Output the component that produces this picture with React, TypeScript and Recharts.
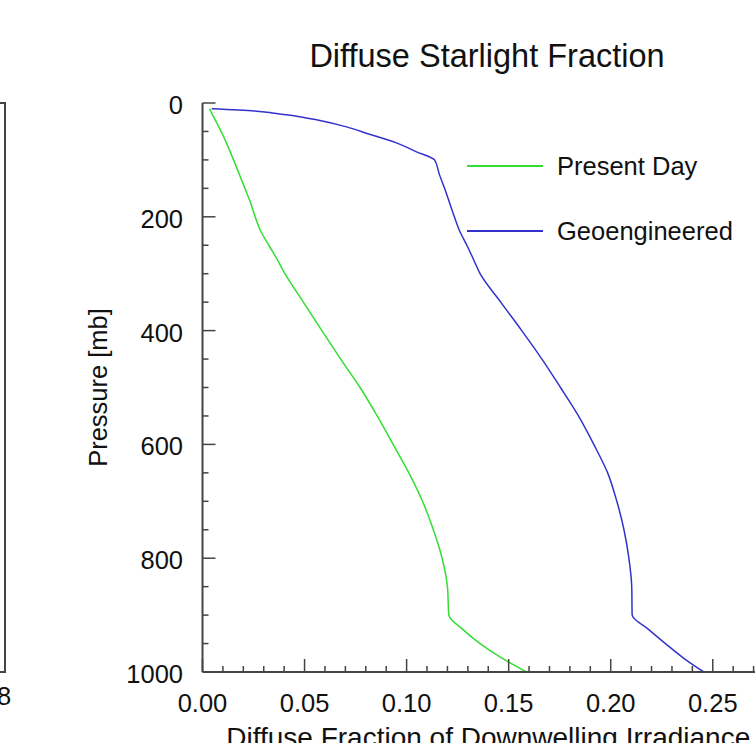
import { LineChart, Line, XAxis, YAxis, Legend } from 'recharts'

const pressure = [
	10, 14, 18, 24, 30, 42, 55, 70, 85, 100, 125, 150, 175, 200, 225, 250, 275,
	300, 350, 400, 450, 500, 550, 600, 650, 700, 750, 800, 850, 900, 925, 950,
	975, 1000
]
const presentDay = [
	0.0035, 0.004, 0.0045, 0.0054, 0.0063, 0.008, 0.0098, 0.0117, 0.0135, 0.0152,
	0.018, 0.0208, 0.0235, 0.0258, 0.0285, 0.0325, 0.0366, 0.0404, 0.0494,
	0.0585, 0.0677, 0.0772, 0.0856, 0.0934, 0.1011, 0.1078, 0.1131, 0.1174,
	0.12, 0.1207, 0.1275, 0.136, 0.1465, 0.1588
]
const geoengineered = [
	0.0045, 0.0255, 0.0353, 0.0475, 0.0564, 0.0706, 0.0818, 0.095, 0.1043,
	0.1137, 0.116, 0.1186, 0.121, 0.1234, 0.126, 0.1295, 0.1328, 0.136, 0.1461,
	0.1564, 0.1663, 0.1754, 0.1842, 0.1917, 0.1985, 0.203, 0.2065, 0.2089,
	0.2103, 0.2105, 0.2185, 0.2268, 0.2355, 0.2456
]

const seriesNames = ['Present Day', 'Geoengineered']
const xMajorTicks = [0, 0.05, 0.1, 0.15, 0.2, 0.25]
const yMajorTicks = [0, 200, 400, 600, 800, 1000]
const xTicks = Array.from({ length: 29 }, (_, i) => i / 100)
const yTicks = Array.from({ length: 21 }, (_, i) => i * 50)

const data = pressure.map((p, i) => ({
	p,
	present: presentDay[i],
	geo: geoengineered[i]
}))

const FONT = '"Liberation Sans", Arial, Helvetica, sans-serif'
const AXIS = '#444'
const TEXT = '#111'

const isMajor = (v: number, list: number[]) =>
	list.some((m) => Math.abs(m - v) < 1e-9)

const XTick = (props: any) => {
	const { x, y, payload } = props
	const major = isMajor(payload.value, xMajorTicks)
	return (
		<g>
			<line
				x1={x}
				x2={x}
				y1={y}
				y2={y - (major ? 13 : 6)}
				stroke={AXIS}
				strokeWidth={1.5}
			/>
			{major && (
				<text
					x={x}
					y={y + 40}
					textAnchor='middle'
					fontSize={25.5}
					fontFamily={FONT}
					fill={TEXT}
				>
					{payload.value.toFixed(2)}
				</text>
			)}
		</g>
	)
}

const YTick = (props: any) => {
	const { x, y, payload } = props
	const major = isMajor(payload.value, yMajorTicks)
	return (
		<g>
			<line
				x1={x}
				x2={x + (major ? 13 : 6)}
				y1={y}
				y2={y}
				stroke={AXIS}
				strokeWidth={1.5}
			/>
			{major && (
				<text
					x={x - 19.5}
					y={y + 11}
					textAnchor='end'
					fontSize={25.5}
					fontFamily={FONT}
					fill={TEXT}
				>
					{payload.value}
				</text>
			)}
		</g>
	)
}

const renderLegend = (props: any) => {
	const items = [...props.payload].sort(
		(a: any, b: any) => seriesNames.indexOf(a.value) - seriesNames.indexOf(b.value)
	)
	return (
		<div style={{ fontFamily: FONT }}>
			{items.map((entry: any) => (
				<div
					key={entry.value}
					style={{
						display: 'flex',
						alignItems: 'center',
						height: 30,
						marginBottom: 35
					}}
				>
					<span
						style={{
							display: 'inline-block',
							width: 76,
							height: 1.5,
							background: entry.color
						}}
					/>
					<span style={{ marginLeft: 14, fontSize: 25.5, color: TEXT }}>
						{entry.value}
					</span>
				</div>
			))}
		</div>
	)
}

function App() {
	return (
		<div
			style={{
				position: 'fixed',
				left: 0,
				top: 0,
				width: 755,
				height: 743,
				overflow: 'hidden',
				background: '#fff',
				fontFamily: FONT
			}}
		>
			{/* edge of the neighbouring panel */}
			<div
				style={{
					position: 'absolute',
					left: -10,
					top: 102,
					width: 12,
					height: 567,
					border: `2px solid ${AXIS}`
				}}
			/>
			<span
				style={{
					position: 'absolute',
					left: -3,
					top: 683,
					fontSize: 25.5,
					lineHeight: '26px',
					color: TEXT
				}}
			>
				8
			</span>

			<div
				style={{
					position: 'absolute',
					left: 487,
					top: 40,
					transform: 'translateX(-50%)',
					whiteSpace: 'nowrap',
					fontSize: 32.5,
					lineHeight: '32px',
					color: TEXT
				}}
			>
				Diffuse Starlight Fraction
			</div>

			<LineChart
				width={800}
				height={770}
				data={data}
				layout='vertical'
				margin={{ top: 103, right: 26, bottom: 0, left: 142.5 }}
			>
				<XAxis
					type='number'
					dataKey='present'
					domain={[0, 0.28]}
					ticks={xTicks}
					interval={0}
					tick={<XTick />}
					tickLine={false}
					tickSize={0}
					tickMargin={0}
					height={98}
					axisLine={{ stroke: AXIS, strokeWidth: 2 }}
					label={{
						value: 'Diffuse Fraction of Downwelling Irradiance',
						position: 'insideBottom',
						offset: 23,
						fontSize: 28,
						fill: TEXT,
						fontFamily: FONT
					}}
				/>
				<XAxis
					xAxisId='top'
					orientation='top'
					type='number'
					domain={[0, 0.28]}
					height={0}
					tick={false}
					tickLine={false}
					axisLine={{ stroke: AXIS, strokeWidth: 2 }}
				/>
				<YAxis
					type='number'
					dataKey='p'
					domain={[0, 1000]}
					ticks={yTicks}
					interval={0}
					tick={<YTick />}
					tickLine={false}
					tickSize={0}
					tickMargin={0}
					width={60}
					axisLine={{ stroke: AXIS, strokeWidth: 2 }}
					label={{
						value: 'Pressure [mb]',
						angle: -90,
						position: 'insideLeft',
						offset: -44.5,
						fontSize: 25.5,
						fill: TEXT,
						fontFamily: FONT,
						style: { textAnchor: 'middle' }
					}}
				/>
				<Legend
					layout='horizontal'
					verticalAlign='middle'
					align='center'
					content={renderLegend}
					wrapperStyle={{ left: 467, top: 151, width: 'auto' }}
				/>
				<Line
					type='monotone'
					dataKey='present'
					name='Present Day'
					stroke='#33dd33'
					strokeWidth={1.5}
					dot={false}
					isAnimationActive={false}
				/>
				<Line
					type='monotone'
					dataKey='geo'
					name='Geoengineered'
					stroke='#3333cc'
					strokeWidth={1.5}
					dot={false}
					isAnimationActive={false}
				/>
			</LineChart>
		</div>
	)
}

export default App
